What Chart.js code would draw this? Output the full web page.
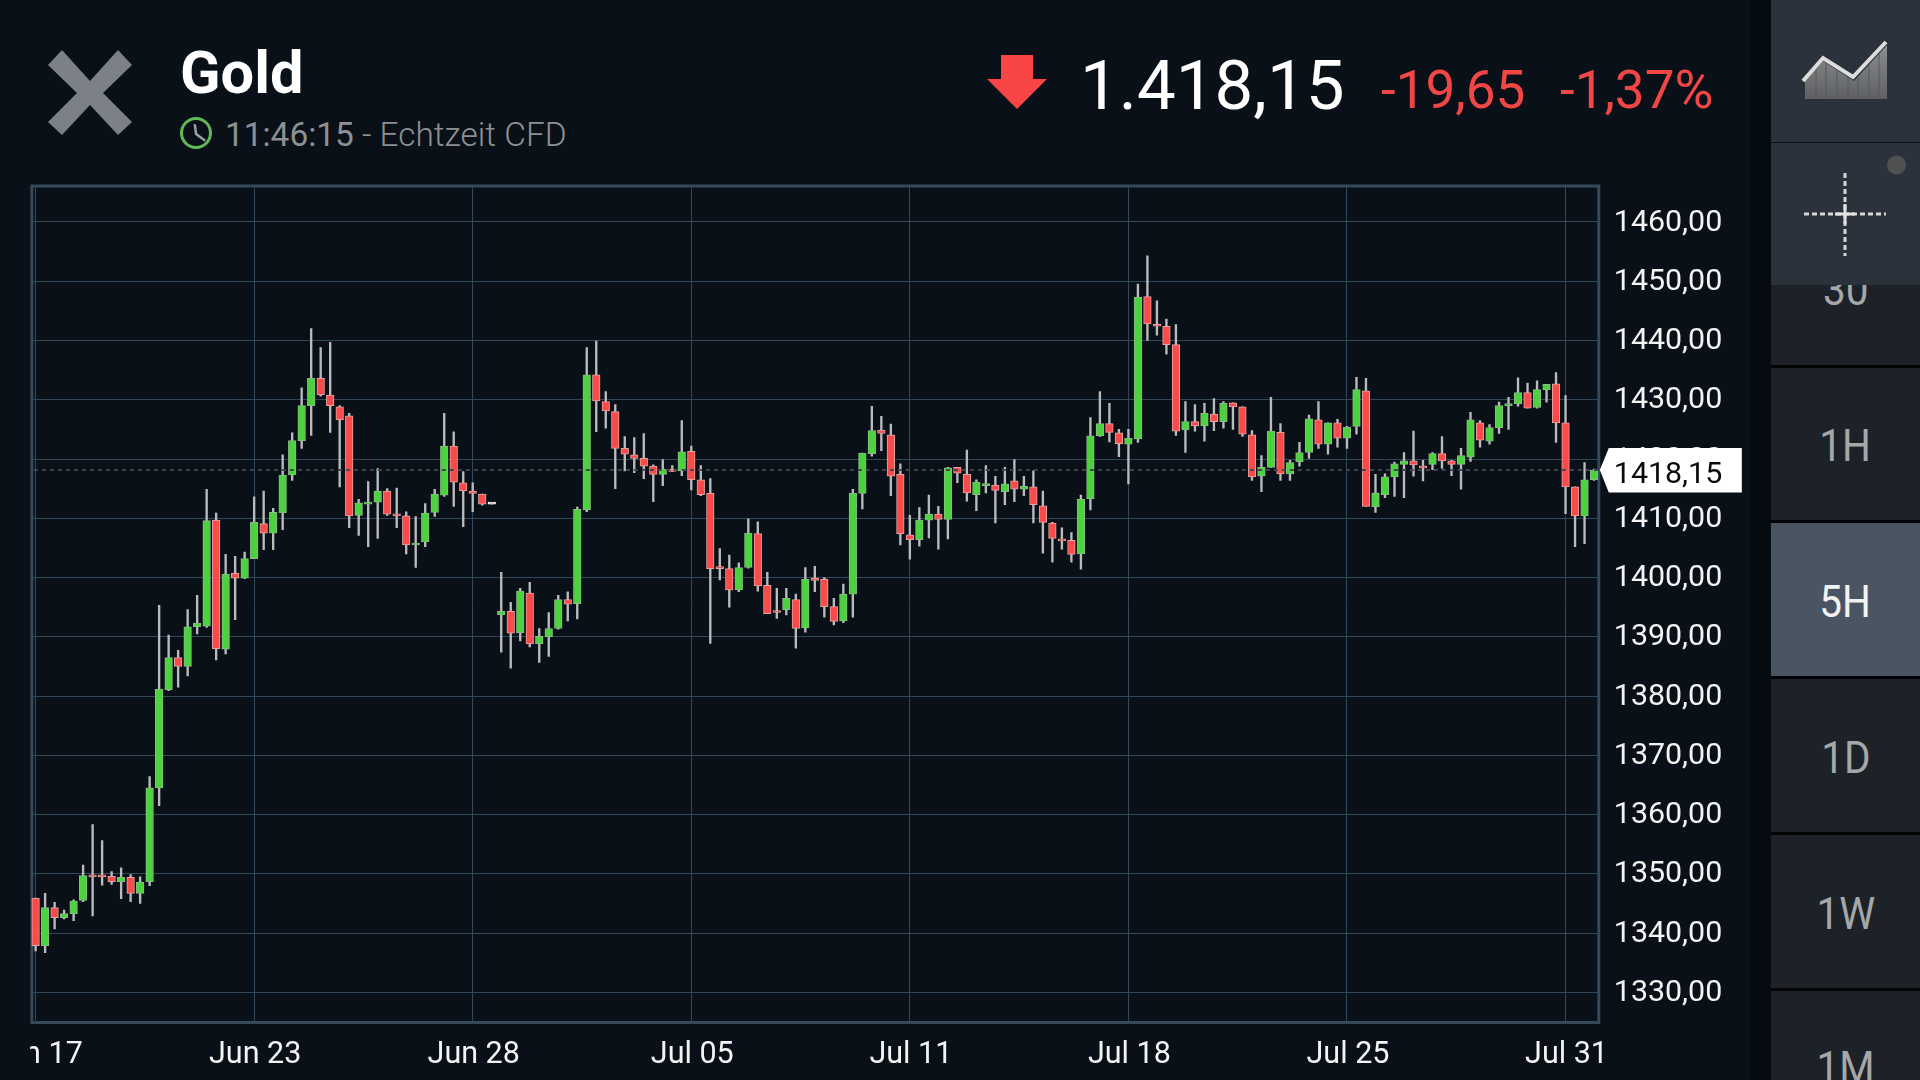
<!DOCTYPE html>
<html>
<head>
<meta charset="utf-8">
<title>Gold</title>
<script src="https://cdn.jsdelivr.net/npm/chart.js@4"></script>
<style>
html,body{margin:0;padding:0;width:1920px;height:1080px;overflow:hidden;background:#0a1017;font-family:Roboto,sans-serif}
.t{position:absolute;line-height:1;white-space:pre}
#cv{position:absolute;left:30px;top:170px}
#strip{position:absolute;left:1750px;top:0;width:21px;height:1080px;background:#060b12}
.item{position:absolute;left:1771px;width:149px;background:#1d2229;border-bottom:3px solid #020304;box-sizing:border-box;color:#a5a7a9;font-size:44px;text-align:center;overflow:hidden}
.item span{display:inline-block;transform:scaleX(.92)}
.top{position:absolute;left:1771px;width:149px;background:#2b323b}
svg{position:absolute;left:0;top:0}
</style>
</head>
<body>
<div class="t" style="left:180px;top:44px;font-size:59.5px;font-weight:700;color:#fff">Gold</div>
<div class="t" style="left:225px;top:118px;font-size:33.4px;color:#8e9094">11:46:15<span style="font-weight:300"> - Echtzeit CFD</span></div>
<div class="t" style="left:1080px;top:51px;font-size:69px;font-weight:400;color:#fff">1.418,15</div>
<div class="t" style="left:1381px;top:64px;font-size:53px;font-weight:400;color:#f04646">-19,65</div>
<div class="t" style="left:1560px;top:64px;font-size:53px;font-weight:400;color:#f04646">-1,37%</div>
<canvas id="cv" width="1740" height="910" style="width:1740px;height:910px"></canvas>
<div id="strip"></div>
<div class="item" style="top:285px;height:83px;line-height:10px"><span>30</span></div>
<div class="item" style="top:368px;height:155px;line-height:157px"><span>1H</span></div>
<div class="item" style="top:523px;height:156px;line-height:159px;background:#4a5563;color:#f2f2f2"><span>5H</span></div>
<div class="item" style="top:679px;height:156px;line-height:159px"><span>1D</span></div>
<div class="item" style="top:835px;height:156px;line-height:159px"><span>1W</span></div>
<div class="item" style="top:991px;height:89px;line-height:154px;border:0"><span>1M</span></div>
<div class="top" style="top:0;height:142px"></div>
<div class="top" style="top:143px;height:142px"></div>
<svg width="1920" height="1080" viewBox="0 0 1920 1080">
<defs><linearGradient id="g" x1="0" y1="0" x2="0" y2="1"><stop offset="0" stop-color="#8c8d8e"/><stop offset="1" stop-color="#5f6061"/></linearGradient></defs>
<path d="M62 50 L90 81 L118 50 L132 65 L103 93 L132 122 L118 135 L90 105 L62 135 L48 122 L77 93 L48 65 Z" fill="#7c8087"/>
<circle cx="196" cy="133" r="14.5" fill="none" stroke="#62b957" stroke-width="3"/>
<path d="M196 124 L196 134 L204 142" fill="none" stroke="#9aa09c" stroke-width="2.5" transform="rotate(-8 196 133)"/>
<polygon points="1001,55 1033,55 1033,79 1047,79 1017,109 987,79 1001,79" fill="#f94545"/>
<polygon points="1805,99 1805,81 1823,61 1854,81 1887,45 1887,99" fill="url(#g)"/>
<path d="M1816 68V99M1826 62V99M1837 69V99M1848 77V99M1858 77V99M1869 65V99M1879 54V99" stroke="#55585c" stroke-width="1" fill="none"/>
<path d="M1803 81 L1823 58 L1853 77 L1886 42" fill="none" stroke="#dcdcdc" stroke-width="4"/>
<line x1="1804" y1="214" x2="1886" y2="214" stroke="#d6d6d6" stroke-width="3" stroke-dasharray="5 3"/>
<line x1="1845" y1="173" x2="1845" y2="256" stroke="#d6d6d6" stroke-width="3" stroke-dasharray="5 3"/>
<line x1="1835" y1="214" x2="1855" y2="214" stroke="#e2e2e2" stroke-width="3"/>
<line x1="1845" y1="204" x2="1845" y2="224" stroke="#e2e2e2" stroke-width="3"/>
<circle cx="1896.5" cy="165" r="9.5" fill="#4f5153"/>
</svg>
<script>
const opens=[1345.9,1337.9,1344.3,1342.6,1343.3,1345.5,1349.7,1349.7,1349.6,1348.7,1349.4,1346.7,1348.7,1364.5,1381.1,1386.5,1385,1391.7,1391.8,1409.7,1387.9,1400.7,1399.9,1403.2,1409.1,1407.5,
1410.9,1417.3,1423.1,1429,1433.6,1430.8,1428.8,1427.3,1410.5,1412.4,1412.7,1414.6,1410.6,1410.4,1405.5,1406,1411,1413.9,1422.2,1416,1414.6,1414.1,1412.4,
1393.7,1394.3,1390.7,1397.4,1388.8,1390,1391.4,1396.3,1395.6,1411.4,1434.2,1429.7,1428,1421.8,1420.7,1420.1,1418.8,1417.4,1418.3,1418,1421.3,1416.5,1414.2,1401.7,1401.5,1397.9,1401.7,1407.4,1398.7,1394.3,1394.6,1396.3,1391.5,1399.9,
1399.7,1395.1,1392.7,1397.2,1414.2,1420.9,1424.9,1424.1,1417.4,1407.2,1406.4,1409.7,1410.7,1409.8,1418.6,1417.4,1414,1415.5,1415.6,1414.5,1416.3,1414.9,1415.3,1412.1,1409.2,1406.5,1406.3,1404,1413.3,1423.9,1426,1424.4,1422.5,
1423.4,1447.4,1442.7,1442.4,1439.3,1424.9,1426.3,1425.6,1427.6,1426.3,1429.5,1428.8,1424.1,1417.1,1418.6,1424.5,1417.5,1419.5,1421.1,1426.6,1422.5,1426.1,1423.5,1425.5,1431.5,1411.9,1414,
1417,1419.1,1419.7,1418.8,1419.1,1420.9,1419.7,1419.1,1420.3,1426.1,1423,1425.3,1429,1429.3,1431.2,1428.7,1431.7,1432.7,1426.1,1415.3,1410.4,1416.5];
const closes=[1337.9,1344.3,1342.6,1343.3,1345.4,1349.7,1349.5,1349.5,1348.7,1349.4,1346.7,1348.6,1364.5,1381.2,1386.5,1385,1391.7,1392.3,1409.6,1388,1400.6,1399.9,1403.2,1409.3,1407.5,1411,
1417.3,1423.1,1429,1433.6,1430.8,1429,1426.6,1410.4,1412.6,1412.6,1414.6,1410.7,1410.4,1405.5,1405.8,1410.9,1414.1,1422.2,1416.1,1414.6,1414.2,1412.4,1412.4,
1394.3,1390.6,1397.7,1388.8,1390.1,1391.4,1396.3,1395.5,1411.5,1434.2,1429.8,1428.1,1421.8,1420.8,1420.1,1418.8,1417.4,1418.3,1417.9,1421.2,1416.5,1414,1401.5,1401.5,1397.9,1401.7,1407.5,1398.6,1393.9,1394.1,1396.5,1391.4,1399.7,1399.5,
1395.1,1392.6,1397.2,1414.2,1421,1424.8,1424.3,1417.1,1407.4,1406.4,1409.7,1410.7,1409.8,1418.5,1417.6,1414.3,1416.1,1415.8,1414.7,1415.8,1414.9,1415.4,1412.3,1409.3,1406.6,1406.2,1403.9,1413.2,1423.9,1426,1424.5,1422.6,1423.5,
1447.3,1442.8,1442.4,1439.3,1424.7,1426.3,1425.6,1427.7,1426.3,1429.4,1428.8,1424.2,1417,1418.6,1424.7,1417.5,1419.4,1421.1,1426.8,1422.5,1426.1,1423.5,1425.4,1431.7,1412,1414.3,1417,
1419.2,1419.7,1419,1418.5,1420.9,1419.7,1419.1,1420.6,1426.6,1423.2,1425.3,1429,1429.3,1431.2,1428.6,1431.7,1432.6,1426.1,1415.3,1410.4,1416.5,1418.15];
const highs=[1345.9,1346.7,1345.2,1343.9,1345.6,1351.5,1358.3,1355.6,1350.4,1351,1349.9,1349.5,1366.4,1395.3,1390.3,1387.7,1394.6,1397,1414.9,1410.9,1403.9,1403.6,1404.3,1413.6,1414.6,1411.7,
1420.7,1424.4,1432,1442,1438.8,1439.7,1429,1427.7,1413.2,1416.2,1418.4,1415,1415.1,1411.1,1410.3,1412.5,1414.9,1427.7,1424.6,1417.9,1416,1414.1,1412.4,
1400.9,1395.8,1398.2,1399.2,1391.4,1394.1,1397,1397.6,1411.9,1438.8,1439.9,1431.4,1429.2,1423.8,1423.6,1424.3,1419,1419.9,1418.9,1426.5,1422.2,1418.9,1416.7,1404.9,1403.8,1402.5,1409.9,1409.4,1400.9,1398.2,1398.2,1397.2,1401.7,1401.9,
1400,1396.5,1398.9,1414.9,1421,1428.9,1427.2,1425.9,1419.2,1410.5,1411.8,1413.9,1412,1418.6,1418.6,1421.5,1416.5,1418.9,1417.1,1418.6,1419.9,1417.1,1418,1414.6,1409.3,1408.4,1407.6,1413.9,1427,1431.4,1429.4,1425,1425,
1449.5,1454.3,1446.7,1443.6,1442.7,1429.7,1429.2,1429.4,1430.2,1429.7,1429.5,1428.8,1424.8,1420.6,1430.4,1426,1419.8,1422.8,1427.4,1429.7,1426.1,1426.7,1425.5,1433.8,1433.6,1417.4,1417.5,
1419.5,1421.1,1424.7,1419.8,1421.1,1423.8,1419.8,1421.8,1427.9,1426.5,1425.8,1429.6,1430.4,1433.7,1432.8,1433.2,1432.6,1434.6,1430.7,1415.3,1419.4,1418.3];
const lows=[1337,1336.7,1340.7,1342.4,1342.1,1345.3,1342.9,1348.1,1348.2,1345.8,1345.3,1345,1348,1361.5,1380.9,1381.5,1383.4,1390.5,1391.6,1386.1,1387.1,1392.9,1399.8,1403.2,1404.7,1404.7,
1408.1,1416.4,1421.8,1424,1430.6,1424.5,1415.3,1408.4,1407.1,1405.2,1406.6,1410.5,1408.4,1404,1401.7,1405.2,1410.3,1413.7,1412,1408.6,1411.1,1412.2,1412.4,
1387.4,1384.7,1389.3,1388.3,1385.7,1386.7,1391.3,1392.7,1393,1411.1,1424.6,1425.2,1415,1418,1417.7,1416.7,1412.8,1415.5,1417.9,1417.2,1414.8,1413.8,1388.9,1399.6,1395,1397.6,1401.6,1397.7,1393.9,1393.1,1393.7,1388.1,1390.8,1397.6,
1393.3,1392,1392.4,1393.3,1411.6,1420.5,1421.4,1413.8,1405.5,1403.1,1405.3,1406.7,1404.8,1406.5,1416,1412.9,1411.3,1414.3,1409.2,1412.3,1412.8,1413.8,1409.2,1404.1,1402.6,1404.8,1402.6,1401.4,1411.4,1423.8,1422.9,1420.4,1415.8,
1422.8,1440,1440.9,1437.7,1424,1421.1,1424.7,1423,1424.8,1425.2,1425,1423.8,1416.4,1414.5,1418.6,1416.4,1416.4,1418.8,1420.1,1421.8,1420.8,1422,1421.8,1424.2,1412,1411,1413.5,
1413.7,1413.5,1417.1,1416.3,1418.2,1418.4,1417.2,1414.9,1419.6,1422,1422.5,1424.3,1425,1428.9,1428.6,1428.6,1429.6,1422.8,1410.8,1405.2,1405.7,1416.4];
const xTickIndex=[0,23,46,69,92,115,138,161];
const xTickLabels=["Jun 17","Jun 23","Jun 28","Jul 05","Jul 11","Jul 18","Jul 25","Jul 31"];
const yTickValues=[1330,1340,1350,1360,1370,1380,1390,1400,1410,1420,1430,1440,1450,1460];
const lastPrice=1418.15;

const GRID='#31485b', FRAME='#35495c';
const categories=opens.map((_,i)=>{const k=xTickIndex.indexOf(i);return k>=0?xTickLabels[k]:'';});
const fmt=v=>v.toFixed(2).replace('.',',');
const fill=(o,c)=>c>o?'#4cd13f':c<o?'#fa4b4b':'#ffffff';
const edge=(o,c)=>c>o?'#86bd80':c<o?'#e9a2a2':'#ffffff';

const overlay={
  id:'overlay',
  beforeDatasetsDraw(chart){
    const {ctx,chartArea:a}=chart;
    ctx.save();ctx.strokeStyle=FRAME;
    ctx.lineWidth=3;ctx.strokeRect(a.left+1,a.top,a.right-a.left-1,a.bottom-a.top);
    ctx.restore();
  },
  afterDatasetsDraw(chart){
    const {ctx,chartArea:a,scales:{y}}=chart;
    const py=y.getPixelForValue(lastPrice);
    ctx.save();ctx.strokeStyle='#42474e';ctx.lineWidth=2;ctx.setLineDash([4,4]);
    ctx.beginPath();ctx.moveTo(a.left+3,py);ctx.lineTo(a.right,py);ctx.stroke();ctx.restore();
  },
  afterDraw(chart){
    const {ctx,chartArea:a,scales:{y}}=chart;
    const py=y.getPixelForValue(lastPrice),tip=a.right+1;
    ctx.save();ctx.fillStyle='#fff';
    ctx.beginPath();ctx.moveTo(tip,py);ctx.lineTo(tip+9,py-22);ctx.lineTo(tip+142,py-22);ctx.lineTo(tip+142,py+22.5);ctx.lineTo(tip+9,py+22.5);ctx.closePath();ctx.fill();
    ctx.fillStyle='#0a0a0a';ctx.font='30.4px Roboto';ctx.textAlign='left';ctx.textBaseline='middle';
    ctx.fillText(fmt(lastPrice),tip+14,py+5);
    ctx.restore();
  }
};

new Chart(document.getElementById('cv'),{
  type:'bar',
  data:{labels:categories,datasets:[
    {label:'body',data:opens.map((o,i)=>[o,closes[i]]),grouped:false,barThickness:7.6,minBarLength:2,borderWidth:1,borderSkipped:false,
     backgroundColor:opens.map((o,i)=>fill(o,closes[i])),borderColor:opens.map((o,i)=>edge(o,closes[i]))},
    {label:'wick',data:lows.map((l,i)=>[l,highs[i]]),grouped:false,barThickness:1.7,borderWidth:0,backgroundColor:'#b9bbbd'}
  ]},
  options:{
    responsive:false,animation:false,devicePixelRatio:1,
    layout:{padding:{left:0.85,top:16,right:0,bottom:0}},
    plugins:{legend:{display:false},tooltip:{enabled:false},title:{display:false}},
    scales:{
      x:{type:'category',offset:true,
        grid:{offset:false,color:GRID,lineWidth:1,drawTicks:false},border:{display:false},
        ticks:{autoSkip:false,maxRotation:0,minRotation:0,color:'#f4f4f4',font:{family:'Roboto',size:30.5},padding:15,labelOffset:1},
        afterBuildTicks(s){s.ticks=xTickIndex.map(v=>({value:v}));},
        afterFit(s){s.height=57.5;s.paddingLeft=0;s.paddingRight=0;}
      },
      y:{type:'linear',position:'right',min:1324.92,max:1466.07,
        grid:{color:GRID,lineWidth:1,drawTicks:false},border:{display:false},
        ticks:{color:'#f4f4f4',font:{family:'Roboto',size:30.4},padding:15,labelOffset:1,crossAlign:'near',callback:v=>fmt(v)},
        afterBuildTicks(s){s.ticks=yTickValues.map(v=>({value:v}));},
        afterFit(s){s.width=171.2;s.paddingTop=0;s.paddingBottom=0;}
      }
    }
  },
  plugins:[overlay]
});
</script>
</body>
</html>
